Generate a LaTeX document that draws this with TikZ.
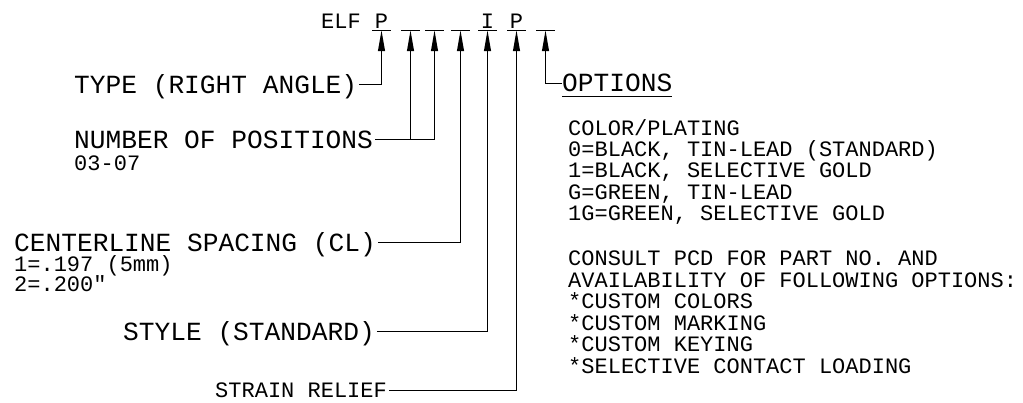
\documentclass[tikz,border=0pt]{standalone}
\usepackage{fontspec}
\newfontfamily\cadfont{Liberation Mono}
\tikzset{
  big/.style={font=\cadfont\fontsize{26.2}{26.2}\selectfont, inner xsep=2pt, inner ysep=0pt,
              text height=17.3pt, text depth=0pt, anchor=base west},
  sml/.style={font=\cadfont\fontsize{22}{22}\selectfont, inner xsep=2pt, inner ysep=0pt,
              text height=14.5pt, text depth=0pt, anchor=base west},
  lead/.style={line width=1.1pt},
  barline/.style={line width=1.3pt},
  headfill/.style={fill=black},
}
\begin{document}
\begin{tikzpicture}[x=1pt,y=-1pt]
\useasboundingbox (0,0) rectangle (1023,402);

% marker bars with upward arrowheads
\foreach \n/\x in {1/381.5,2/410.5,3/434.5,4/460.5,5/487.5,6/516.5,7/545.5}{
  \coordinate (b\n) at (\x,30.5);
  \coordinate (h\n) at (\x,51);
  \draw[barline] ([xshift=-9.5pt]b\n) -- ([xshift=9.5pt]b\n);
  \fill[headfill] (b\n) -- ([xshift=-3.6pt]h\n) -- ([xshift=3.6pt]h\n) -- cycle;
}

% part number
\node[sml] (elf) at (319,28) {ELF};
\node[sml, anchor=base] (p1) at (b1 |- 0,28) {P};
\node[sml, anchor=base] (i5) at (b5 |- 0,28) {I};
\node[sml, anchor=base] (p6) at (b6 |- 0,28) {P};

% labels
\node[big] (typ) at (72,93.5) {TYPE (RIGHT ANGLE)};
\node[big] (num) at (72,148) {NUMBER OF POSITIONS};
\node[sml] (numv) at (72,170) {03-07};
\node[big] (cl) at (12,251.5) {CENTERLINE SPACING (CL)};
\node[sml] (cl1) at (12,271) {1=.197 (5mm)};
\node[sml] (cl2) at (12,291) {2=.200"};
\node[big] (sty) at (121,340) {STYLE (STANDARD)};
\node[sml] (str) at (213,397.5) {STRAIN RELIEF};
\node[big, inner xsep=0pt] (opt) at (562,91.7) {OPTIONS};
\draw[lead] ([yshift=-4.3pt]opt.south west) -- ([yshift=-4.3pt]opt.south east);

% options text
\foreach \t [count=\i from 0] in {{COLOR/PLATING},{0=BLACK, TIN-LEAD (STANDARD)},{1=BLACK, SELECTIVE GOLD},{G=GREEN, TIN-LEAD},{1G=GREEN, SELECTIVE GOLD}}{
  \node[sml] (ca\i) at (566,135+21.35*\i) {\t};
}
\foreach \t [count=\i from 0] in {{CONSULT PCD FOR PART NO. AND},{AVAILABILITY OF FOLLOWING OPTIONS:},{*CUSTOM COLORS},{*CUSTOM MARKING},{*CUSTOM KEYING},{*SELECTIVE CONTACT LOADING}}{
  \node[sml] (cb\i) at (566,265.5+21.5*\i) {\t};
}

% leaders
\draw[lead] (typ.east) -| (h1);
\draw[lead] (num.east) -| (h3);
\draw[lead] (num.east -| h2) -- (h2);
\draw[lead] (cl.east) -| (h4);
\draw[lead] (sty.east) -| (h5);
\draw[lead] (str.east) -| (h6);
\draw[lead] (opt.west) -| (h7);
\end{tikzpicture}
\end{document}
